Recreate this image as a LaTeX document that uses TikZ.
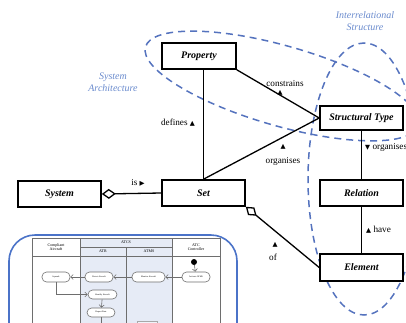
\documentclass[tikz,border=0pt]{standalone}
\usepackage{fontspec}
\setmainfont{Liberation Serif}
\newfontfamily\symfont{DejaVu Sans}
\usetikzlibrary{arrows.meta,shapes.geometric}
\definecolor{groupblue}{RGB}{85,115,190}
\definecolor{notetext}{RGB}{105,138,205}
\definecolor{frameblue}{RGB}{75,115,200}
\definecolor{laneshade}{RGB}{230,235,246}
\definecolor{gridgray}{RGB}{110,110,110}
\newcommand{\tri}[1]{{\symfont\fontsize{6.5}{6.5}\selectfont #1}}
\tikzset{
  conceptbox/.style={draw, line width=1.6pt, fill=white, minimum width=83pt,
    minimum height=26pt, inner sep=0pt, font=\fontsize{10}{11}\selectfont\bfseries\itshape},
  link/.style={line width=1.3pt},
  rolelabel/.style={font=\fontsize{9.2}{10}\selectfont, inner sep=0pt},
  groupline/.style={draw=groupblue, line width=1.5pt, dash pattern=on 7pt off 5pt},
  grouplabel/.style={text=notetext, font=\fontsize{10}{12.5}\selectfont\itshape, align=center, inner sep=0pt},
  lanehead/.style={font=\fontsize{4}{4.6}\selectfont, align=center, inner sep=0pt},
  pill/.style={draw=gridgray, line width=0.6pt, fill=white, rounded corners=4.5pt,
    minimum height=10pt, inner sep=0pt, font=\fontsize{2.2}{2.6}\selectfont},
  flow/.style={draw=gridgray, line width=0.6pt, -{Straight Barb[length=2.5pt,width=5pt]}},
}
\begin{document}
\begin{tikzpicture}[x=1pt,y=-1pt]
\useasboundingbox (0,0) rectangle (406,322);

% grouping ellipses
\draw[groupline, rotate around={-16:(282,86)}] (282,86) ellipse [x radius=142pt, y radius=40pt];
\draw[groupline] (364,179) ellipse [x radius=56pt, y radius=136pt];
\node[grouplabel] (archlabel) at (113,82) {System\\Architecture};
\node[grouplabel] (structlabel) at (365,21) {Interrelational\\Structure};

% concept boxes
\node[conceptbox, minimum width=74pt] (property) at (199,56) {Property};
\node[conceptbox, minimum height=24pt] (stype) at (361.5,118) {Structural Type};
\node[conceptbox] (set) at (203.5,193) {Set};
\node[conceptbox] (system) at (59.5,194) {System};
\node[conceptbox] (relation) at (361.5,193) {Relation};
\node[conceptbox, minimum height=27pt] (element) at (361.5,267.5) {Element};

% associations
\draw[link] (set.north |- property.south) -- (set.north);
\draw[link] (property.south east) -- (stype.west);
\draw[link] (set.north) -- (stype.west);
\draw[link] (stype.south) -- (relation.north);
\draw[link] (relation.south) -- (element.north);
\draw[link, {Diamond[open,length=14pt,width=10pt]}-] (system.east) -- (set.west);
\draw[link, {Diamond[open,length=14pt,width=10pt]}-] (set.south east) -- (element.west);

% role labels
\node[rolelabel] (lconstrains) at (285,83) {constrains};
\node[rolelabel] (tconstrains) at (280,93) {\tri{▲}};
\node[rolelabel] (ldefines) at (178,123) {defines \tri{▲}};
\node[rolelabel] (torganises) at (283,147) {\tri{▲}};
\node[rolelabel] (lorganises) at (283,161) {organises};
\node[rolelabel, anchor=west] (lorganise) at (365,147) {\tri{▼} organises};
\node[rolelabel, anchor=west] (lhave) at (366,230) {\tri{▲} have};
\node[rolelabel] (lis) at (138,183) {is \tri{▶}};
\node[rolelabel] (tof) at (275,245) {\tri{▲}};
\node[rolelabel] (lof) at (273,257) {of};

% activity diagram inset
\draw[frameblue, line width=1.6pt, rounded corners=26pt] (9,235) rectangle (237,372);
\fill[laneshade] (80,238) rectangle (172,330);
\draw[gridgray, line width=0.6pt] (32,238) rectangle (220,330);
\draw[gridgray, line width=0.6pt] (80,238) -- (80,330) (172,238) -- (172,330)
  (126,247) -- (126,330) (80,247) -- (172,247) (32,256) -- (220,256);
\node[lanehead] (hcompliant) at (56,247) {Compliant\\Aircraft};
\node[lanehead] (hatcs) at (126,242.5) {ATCS};
\node[lanehead] (hatr) at (103,251.5) {ATR};
\node[lanehead] (hatms) at (149,251.5) {ATMS};
\node[lanehead] (hatc) at (196,247) {ATC\\Controller};

\node[circle, fill=black, minimum size=6pt, inner sep=0pt] (start) at (194,262) {};
\node[pill, minimum width=28pt] (activate) at (196,277) {Activate ATMS};
\node[pill, minimum width=33pt] (monitor) at (148.5,277) {Monitor Aircraft};
\node[pill, minimum width=28pt] (detect) at (99,277) {Detect Aircraft};
\node[pill, minimum width=28pt] (squawk) at (56,277) {Squawk};
\node[pill, minimum width=29pt, minimum height=9pt] (identify) at (102.5,294.5) {Identify Aircraft};
\node[pill, minimum width=28pt, minimum height=9pt] (report) at (101,312.5) {Report Data};
\node[draw=gridgray!60, fill=laneshade!60!white, line width=0.4pt, minimum width=20pt,
  minimum height=10pt, inner sep=0pt] (atmsnext) at (147,326) {};
\coordinate (reportexit) at (101,330);

\draw[flow] (start) -- (activate);
\draw[flow] (activate) -- (monitor);
\draw[flow] (monitor) -- (detect);
\draw[flow] (detect) -- (squawk);
\draw[flow] (squawk.south) |- (identify.west);
\draw[flow] (identify) -- (report);
\draw[gridgray, line width=0.6pt] (report.south) -- (reportexit);
\end{tikzpicture}
\end{document}
